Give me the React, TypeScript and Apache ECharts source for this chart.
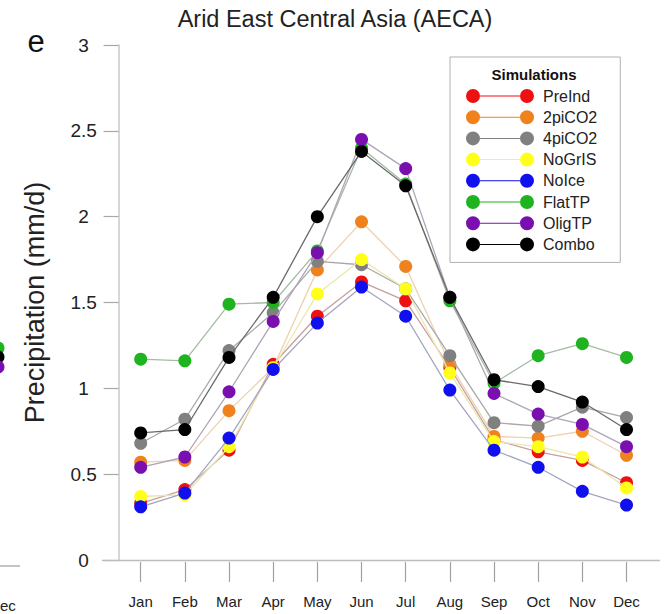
import React, { useEffect, useRef } from "react";
import * as echarts from "echarts";

const months = ["Jan", "Feb", "Mar", "Apr", "May", "Jun", "Jul", "Aug", "Sep", "Oct", "Nov", "Dec"];

const seriesNames = ["PreInd", "2piCO2", "4piCO2", "NoGrIS", "NoIce", "FlatTP", "OligTP", "Combo"];
const seriesColors = ["#ee1111", "#f0821e", "#808080", "#ffff1a", "#1010ee", "#1fb31f", "#7a0fb0", "#000000"];
const lineColors = ["#c4a0a0", "#ecd2b0", "#a8a8a8", "#ece6b0", "#a4a4c0", "#a4bca4", "#b0a4b8", "#6a6a6a"];

const preInd = [0.33, 0.41, 0.64, 1.14, 1.42, 1.62, 1.51, 1.12, 0.7, 0.63, 0.58, 0.45];
const twoPiCO2 = [0.57, 0.58, 0.87, 1.12, 1.69, 1.97, 1.71, 1.14, 0.72, 0.71, 0.75, 0.61];
const fourPiCO2 = [0.68, 0.82, 1.22, 1.44, 1.74, 1.72, 1.58, 1.19, 0.8, 0.78, 0.89, 0.83];
const noGrIS = [0.37, 0.38, 0.66, 1.12, 1.55, 1.75, 1.58, 1.09, 0.69, 0.66, 0.6, 0.42];
const noIce = [0.31, 0.39, 0.71, 1.11, 1.38, 1.59, 1.42, 0.99, 0.64, 0.54, 0.4, 0.32];
const flatTP = [1.17, 1.16, 1.49, 1.5, 1.8, 2.4, 2.19, 1.51, 1.03, 1.19, 1.26, 1.18];
const oligTP = [0.54, 0.6, 0.98, 1.39, 1.79, 2.45, 2.28, 1.53, 0.97, 0.85, 0.79, 0.66];
const combo = [0.74, 0.76, 1.18, 1.53, 2.0, 2.38, 2.18, 1.53, 1.05, 1.01, 0.92, 0.76];

const seriesValues = [preInd, twoPiCO2, fourPiCO2, noGrIS, noIce, flatTP, oligTP, combo];

const yTicks = { min: 0, max: 3, interval: 0.5 };

const FONT = "'Liberation Sans', Arial, Helvetica, sans-serif";

const legendIcon =
  "path://M0,7A7,7,0,1,1,14,7A7,7,0,1,1,0,7ZM14,6.5L54,6.5L54,7.5L14,7.5ZM54,7A7,7,0,1,1,68,7A7,7,0,1,1,54,7Z";

export default function App() {
  const ref = useRef<HTMLDivElement>(null);

  useEffect(() => {
    if (!ref.current) return;
    const chart = echarts.init(ref.current, undefined, { renderer: "svg" });

    const series = seriesNames.map((name, i) => ({
      name,
      type: "line",
      xAxisIndex: 0,
      yAxisIndex: 0,
      data: seriesValues[i],
      symbol: "circle",
      symbolSize: 13,
      itemStyle: { color: seriesColors[i] },
      lineStyle: { color: lineColors[i], width: 1.3 },
      emphasis: { disabled: true },
      z: 2 + i,
    }));

    chart.setOption({
      animation: false,
      textStyle: { fontFamily: FONT },
      title: {
        text: "Arid East Central Asia (AECA)",
        left: 335,
        textAlign: "center",
        top: 7,
        padding: 0,
        textStyle: { fontSize: 23.5, fontWeight: "normal", color: "#222", fontFamily: FONT },
      },
      grid: { left: 118.6, right: 15.4, top: 45, bottom: 54, containLabel: false },
      xAxis: [
        {
          type: "category",
          data: months,
          boundaryGap: true,
          axisLine: { show: false },
          axisTick: { show: false },
          axisLabel: { show: false },
          splitLine: { show: false },
        },
        {
          type: "category",
          data: months,
          position: "bottom",
          offset: 2,
          boundaryGap: true,
          axisLine: { show: false },
          axisTick: { show: true, alignWithLabel: true, length: 20, lineStyle: { color: "#a0a0a0", width: 1.2 } },
          axisLabel: { fontSize: 15, color: "#222", margin: 32, fontFamily: FONT },
          splitLine: { show: false },
        },
      ],
      yAxis: {
        type: "value",
        min: yTicks.min,
        max: yTicks.max,
        interval: yTicks.interval,
        name: "Precipitation (mm/d)",
        nameLocation: "middle",
        nameRotate: 90,
        nameGap: 70,
        nameTextStyle: { fontSize: 27, color: "#222", fontFamily: FONT },
        axisLine: { show: true, lineStyle: { color: "#c8c8c8", width: 1.5 } },
        axisTick: { show: true, length: 15, lineStyle: { color: "#a8a8a8", width: 1.2 } },
        axisLabel: { fontSize: 19, color: "#222", align: "center", margin: 35, fontFamily: FONT },
        splitLine: { show: false },
      },
      legend: {
        orient: "vertical",
        left: 450,
        top: 57,
        data: seriesNames,
        icon: legendIcon,
        itemWidth: 68,
        itemHeight: 14,
        itemGap: 5.2,
        padding: [31, 23, 10, 16],
        borderColor: "#b0b0b0",
        borderWidth: 1,
        selectedMode: false,
        textStyle: { fontSize: 16, color: "#222", fontFamily: FONT, padding: [0, 0, 0, 4] },
      },
      graphic: [
        {
          type: "line",
          shape: { x1: 102, y1: 560.5, x2: 660, y2: 560.5 },
          style: { stroke: "#bdbdbd", lineWidth: 1.5 },
          z: 1,
        },
        {
          type: "text",
          x: 534,
          y: 74,
          style: {
            text: "Simulations",
            fontSize: 15,
            fontWeight: "bold",
            fill: "#111",
            align: "center",
            verticalAlign: "middle",
            fontFamily: FONT,
          },
          z: 10,
        },
        {
          type: "text",
          x: 36,
          y: 41,
          style: {
            text: "e",
            fontSize: 31,
            fill: "#111",
            align: "center",
            verticalAlign: "middle",
            fontFamily: FONT,
          },
        },
        { type: "circle", shape: { cx: -2, cy: 348, r: 6.5 }, style: { fill: "#1fb31f" } },
        { type: "circle", shape: { cx: -2, cy: 357, r: 6.5 }, style: { fill: "#000" } },
        { type: "circle", shape: { cx: -2, cy: 367, r: 6.5 }, style: { fill: "#7a0fb0" } },
        {
          type: "line",
          shape: { x1: 0, y1: 566, x2: 20, y2: 566 },
          style: { stroke: "#b0b0b0", lineWidth: 1.5 },
        },
        {
          type: "text",
          x: 0,
          y: 605,
          style: {
            text: "ec",
            fontSize: 15,
            fill: "#222",
            align: "left",
            verticalAlign: "middle",
            fontFamily: FONT,
          },
        },
      ],
      series,
    });

    return () => {
      chart.dispose();
    };
  }, []);

  return (
    <div
      ref={ref}
      style={{ position: "fixed", left: 0, top: 0, width: 664, height: 614, background: "#fff" }}
    />
  );
}
